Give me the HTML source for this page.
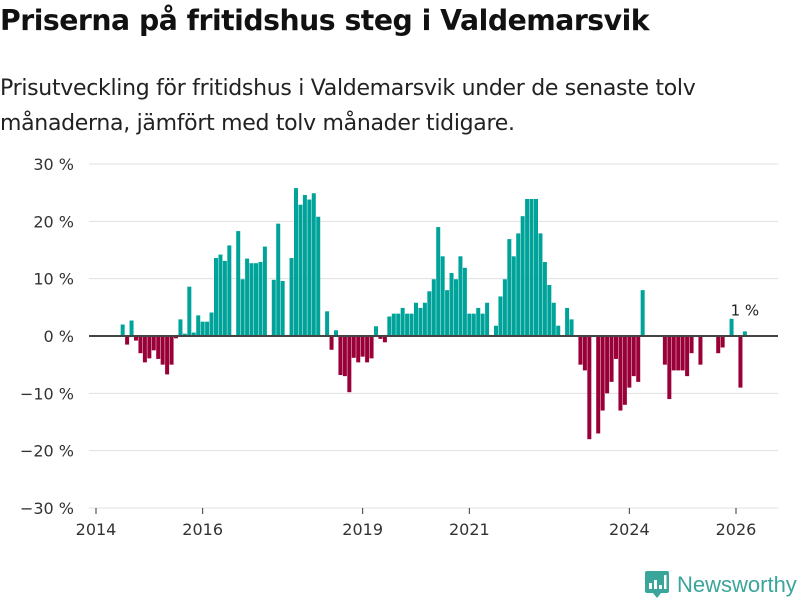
<!DOCTYPE html>
<html><head><meta charset="utf-8"><style>
body{margin:0;background:#fff;font-family:"Liberation Sans","DejaVu Sans",sans-serif;}
#wrap{position:relative;width:800px;height:600px;overflow:hidden;}
h1{position:absolute;left:0;top:4px;margin:0;font-size:28.3px;font-weight:bold;color:#111;font-family:"DejaVu Sans","Liberation Sans",sans-serif;letter-spacing:-0.5px;}
p{position:absolute;left:0;top:71px;margin:0;font-size:22px;line-height:35px;color:#222;font-family:"DejaVu Sans","Liberation Sans",sans-serif;letter-spacing:-0.3px;}
svg{position:absolute;left:0;top:0;}
</style></head><body>
<div id="wrap">
<h1>Priserna på fritidshus steg i Valdemarsvik</h1>
<p>Prisutveckling för fritidshus i Valdemarsvik under de senaste tolv<br>månaderna, jämfört med tolv månader tidigare.</p>
<svg id="chart" width="800" height="600"></svg>
</div>
<script>
const startMonth = 6; // months since Jan 2014 for first value (Jul 2014)
const values = [2,-1.5,2.7,-0.8,-3,-4.6,-3.9,-2.5,-4,-5,-6.7,-5,-0.4,2.9,0.4,8.6,0.6,3.6,2.5,2.5,4.1,13.6,14.2,13.1,15.8,null,18.3,9.9,13.5,12.7,12.7,12.9,15.6,null,9.8,19.6,9.6,null,13.6,25.8,22.9,24.6,23.8,24.9,20.8,null,4.3,-2.4,1,-6.8,-7,-9.8,-3.8,-4.6,-3.6,-4.6,-3.9,1.7,-0.5,-1.1,3.4,3.9,3.9,4.9,3.9,3.9,5.8,4.9,5.8,7.8,9.9,19,13.9,8,11,9.9,13.9,11.9,3.9,3.9,4.9,3.9,5.8,null,1.8,6.9,9.9,16.9,13.9,17.9,20.9,23.9,23.9,23.9,17.9,12.9,8.9,5.8,1.8,null,4.9,2.9,null,-5,-6,-18,null,-17,-13,-10,-8,-4,-13,-12,-9,-7,-8,8,null,null,null,null,-5,-11,-6,-6,-6,-7,-3,null,-5,null,null,null,-3,-2,null,3,null,-9,0.8];
const yTicks = [30,20,10,0,-10,-20,-30];
const yTickLabels = ["30 %","20 %","10 %","0 %","−10 %","−20 %","−30 %"];
const xTickYears = [2014,2016,2019,2021,2024,2026];
const lastLabel = "1 %";

const NS="http://www.w3.org/2000/svg";
const svg=document.getElementById('chart');
const yScale=v=>336 - v*5.7333;
const xScale=m=>96 + m*53.333/12;
function mk(t,a){const e=document.createElementNS(NS,t);for(const k in a)e.setAttribute(k,a[k]);svg.appendChild(e);return e;}

yTicks.forEach((t,i)=>{
  if(t!==0){const g=mk('line',{x1:89,x2:778,y1:yScale(t),y2:yScale(t),stroke:'#e0e0e0','stroke-width':1});
  
  }
  const l=mk('text',{x:74,y:yScale(t)+6,'text-anchor':'end','font-size':16,fill:'#333','font-family':'"DejaVu Sans","Liberation Sans",sans-serif'});
  l.textContent=yTickLabels[i];
  
  
});
xTickYears.forEach(yr=>{
  const x=xScale((yr-2014)*12);
  const t=mk('line',{x1:x,x2:x,y1:508,y2:514,stroke:'#333','stroke-width':1});
  
  
  const l=mk('text',{x:x,y:535,'text-anchor':'middle','font-size':16,fill:'#333','font-family':'"DejaVu Sans","Liberation Sans",sans-serif'});
  l.textContent=yr;
  
  
});
let lastIdx=-1;
values.forEach((v,i)=>{
  if(v===null)return;
  lastIdx=i;
  const cx=xScale(startMonth+i);
  const y0=yScale(0),y1=yScale(v);
  const r=mk('rect',{x:cx-2,width:4,y:Math.min(y0,y1),height:Math.abs(y1-y0),fill:v>=0?'#00a39a':'#990038'});
  
  
});
const z=mk('line',{x1:89,x2:778,y1:yScale(0),y2:yScale(0),stroke:'#444','stroke-width':2});


const ll=mk('text',{x:xScale(startMonth+lastIdx),y:yScale(values[lastIdx])-16,'text-anchor':'middle','font-size':15,fill:'#222','font-family':'"DejaVu Sans","Liberation Sans",sans-serif'});
ll.textContent=lastLabel;


</script>
<div style="position:absolute;left:645px;top:571px;display:flex;align-items:center;">
<svg width="24" height="28" style="position:static" viewBox="0 0 24 28"><path d="M2 0h20a2 2 0 0 1 2 2v18a2 2 0 0 1-2 2h-6l-4 5-4-5H2a2 2 0 0 1-2-2V2a2 2 0 0 1 2-2z" fill="#3aa59a"/><rect x="4" y="12" width="3" height="6" fill="#fff"/><rect x="9" y="9" width="3" height="9" fill="#fff"/><rect x="14" y="14" width="3" height="4" fill="#fff"/><rect x="19" y="4" width="2.5" height="14" fill="#fff"/></svg>
<span style="margin-left:8px;font-size:22px;color:#3aa59a;font-family:'Liberation Sans','DejaVu Sans',sans-serif;">Newsworthy</span>
</div>
</body></html>
